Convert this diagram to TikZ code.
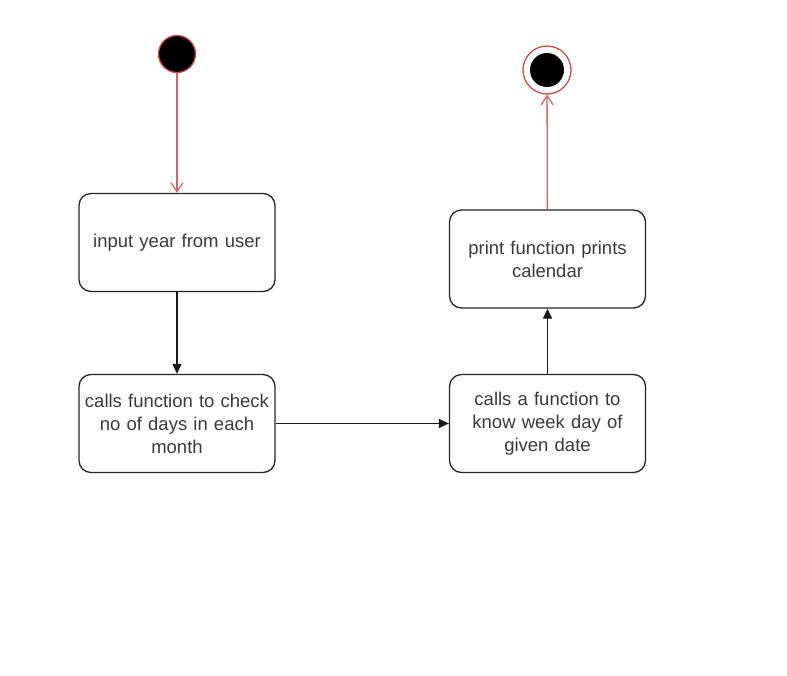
\documentclass[tikz,border=0pt]{standalone}
\usepackage{fontspec}
\setmainfont{Liberation Sans}
\usetikzlibrary{arrows.meta}
\definecolor{umlred}{HTML}{D04848}
\definecolor{txt}{HTML}{3A3A3A}
\tikzset{
  act/.style={draw=black!85, line width=1.3pt, rounded corners=12pt, minimum width=196pt, minimum height=98pt, text width=196pt, align=center, font=\fontsize{18.5}{23}\selectfont, text=txt, inner sep=0pt},
  flow/.style={draw=black!90, line width=1.3pt, -{Triangle[length=10pt,width=9pt]}},
  redflow/.style={draw=umlred!85, line width=1.3pt, -{Straight Barb[length=9pt,width=12pt]}},
}
\begin{document}
\begin{tikzpicture}[x=1pt,y=-1pt]
\useasboundingbox (0,0) rectangle (787,675);
\fill[white] (0,0) rectangle (787,675);
\node[circle, fill=black, draw=umlred, line width=1.3pt, minimum size=37pt, inner sep=0pt] (start) at (177,54) {};
\node[act] (b1) at (177,242.5) {input year from user};
\node[act] (b2) at (177,423.5) {calls function to check\\no of days in each\\month};
\node[act] (b3) at (547.5,423.5) {calls a function to\\know week day of\\given date};
\node[act] (b4) at (547.5,259) {print function prints\\calendar};
\node[circle, draw=umlred, line width=1.3pt, minimum size=48pt, inner sep=0pt] (end) at (547,70) {};
\node[circle, fill=black, minimum size=34pt, inner sep=0pt] (endin) at (547,70) {};
\draw[redflow] (start) -- (b1);
\draw[flow] (b1) -- (b2);
\draw[flow] (b2) -- (b3);
\draw[flow] (b3) -- (b4);
\draw[redflow] (b4) -- (end);
\end{tikzpicture}
\end{document}
